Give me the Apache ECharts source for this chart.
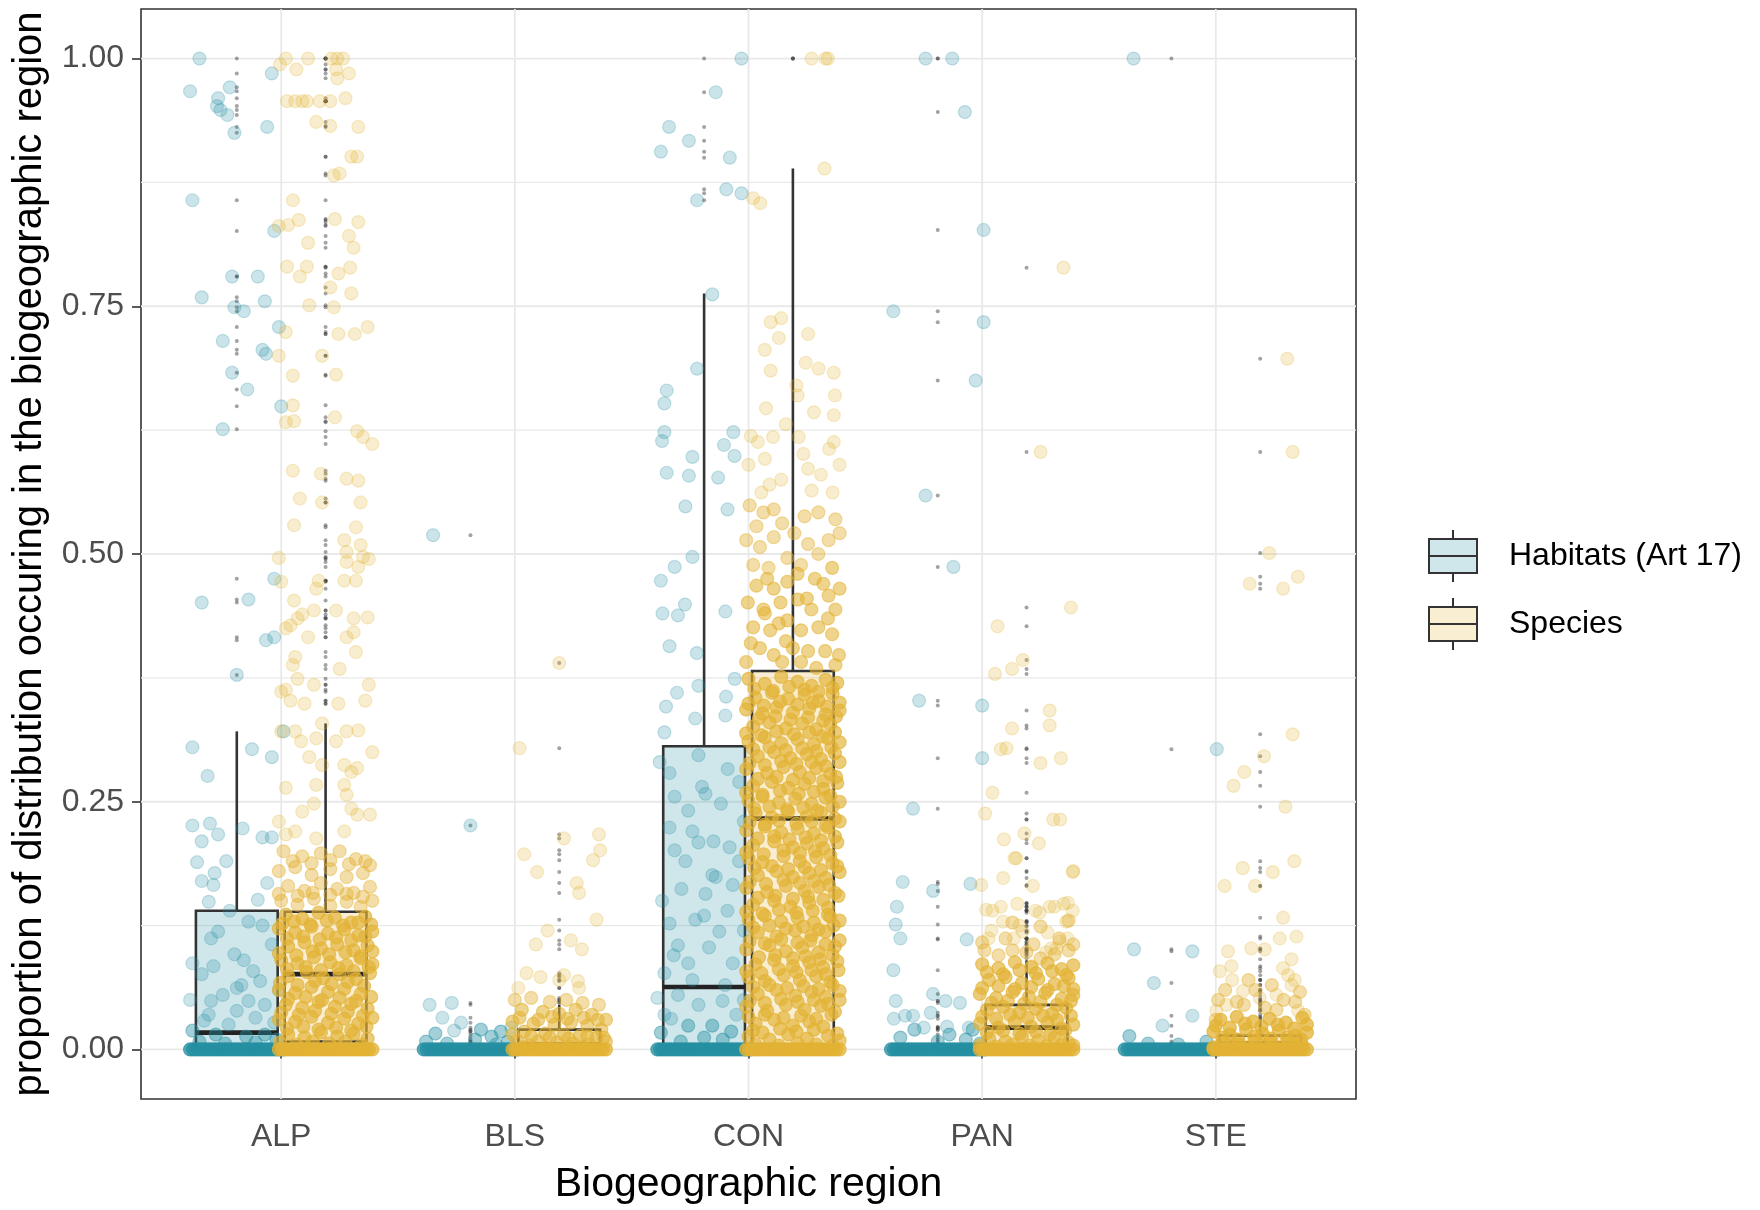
<!DOCTYPE html>
<html>
<head>
<meta charset="utf-8">
<title>Proportion of distribution by biogeographic region</title>
<script src="https://cdn.jsdelivr.net/npm/echarts@6/dist/echarts.min.js"></script>
<style>
  html, body { margin: 0; background: #fff; }
  #chart { width: 1760px; height: 1210px; }
</style>
</head>
<body>
<div id="chart"></div>
<script>
const regions = ["ALP", "BLS", "CON", "PAN", "STE"];
const yTicks = [0, 0.25, 0.5, 0.75, 1];
const yMinorTicks = [0.125, 0.375, 0.625, 0.875];
const HAB = "Habitats (Art 17)";
const SPE = "Species";

// box statistics per region (ALP, BLS, CON, PAN, STE)
const habWhiskerLow = [0, 0, 0, 0, 0];
const habQ1 = [0, 0, 0, 0, 0];
const habMedian = [0.017, 0, 0.063, 0, 0];
const habQ3 = [0.14, 0, 0.306, 0, 0];
const habWhiskerHigh = [0.321, 0, 0.763, 0, 0];

const speWhiskerLow = [0, 0, 0, 0, 0];
const speQ1 = [0.008, 0, 0.005, 0.003, 0.001];
const speMedian = [0.076, 0.005, 0.233, 0.022, 0.006];
const speQ3 = [0.139, 0.02, 0.382, 0.045, 0.014];
const speWhiskerHigh = [0.329, 0.045, 0.889, 0.09, 0.03];

// observations stacked at exactly 0 (jitter offsets, observations per offset)
const zeroBandJitter = [-0.2, -0.188, -0.176, -0.163, -0.151, -0.139, -0.126, -0.114, -0.101, -0.089, -0.076,
  -0.064, -0.052, -0.039, -0.027, -0.014, -0.002, 0.011, 0.023, 0.036, 0.048, 0.061, 0.073, 0.086, 0.098,
  0.111, 0.123, 0.136, 0.148, 0.161, 0.173, 0.186, 0.2];
const zeroBandCount = 5;

// jittered observations: jitter offset, proportion, overlapping observations
const habALP = [
  -0.16,1,1, 0.15,0.985,1, -0.2,0.967,1, -0.03,0.971,1, -0.08,0.96,1, -0.085,0.952,1, -0.07,0.948,1, -0.04,0.943,1, -0.01,0.925,1, 0.13,0.931,1,
  -0.19,0.857,1, 0.16,0.826,1, -0.02,0.78,1, 0.09,0.78,1, -0.15,0.759,1, -0.01,0.749,1, 0.03,0.745,1, 0.12,0.755,1, 0.18,0.729,1, -0.06,0.715,1,
  0.11,0.706,1, 0.125,0.702,1, -0.02,0.683,1, 0.045,0.666,1, 0.19,0.649,1, -0.06,0.626,1, 0.16,0.475,1, -0.15,0.451,1, 0.05,0.454,1, 0.125,0.413,1,
  0.16,0.416,1, 0,0.378,1, -0.19,0.305,1, 0.065,0.303,1, 0.15,0.295,1, -0.125,0.276,1, 0.2,0.321,1, -0.19,0.226,1, -0.115,0.228,1, -0.08,0.217,1,
  -0.15,0.21,1, 0.025,0.223,1, 0.11,0.214,1, 0.15,0.214,1,
  -0.17,0.189,1, -0.045,0.19,1, -0.095,0.178,1, -0.15,0.17,1, -0.1,0.166,1, 0.13,0.168,1, -0.12,0.149,1, 0.09,0.151,1, 0.05,0.129,1, -0.11,0.112,1,
  -0.01,0.096,1, 0.15,0.106,1, -0.19,0.087,1, -0.1,0.084,1, 0.07,0.079,1, 0.02,0.065,1, 0.1,0.069,1, -0.06,0.055,1, 0.05,0.049,1, -0.11,0.049,1,
  0.12,0.045,1, 0,0.039,1, 0.08,0.032,1, -0.14,0.029,1, -0.035,0.025,1, 0.16,0.027,1, -0.19,0.019,2, -0.09,0.015,2, 0.04,0.013,2, 0.12,0.015,2,
  -0.08,0.119,1, 0,0.062,1, -0.15,0.076,1, -0.16,0.008,2, -0.05,0.006,2, 0.08,0.007,2, 0.17,0.01,2, -0.12,0.035,1, 0.03,0.09,1, 0.11,0.125,1,
  -0.03,0.14,1, 0.18,0.06,1, -0.2,0.05,1
];
const habBLS = [
  -0.16,0.519,1, 0,0.226,1, -0.175,0.045,1, -0.08,0.047,1, -0.12,0.032,1, -0.04,0.027,1, -0.07,0.019,1, -0.15,0.016,2,
  0.045,0.02,2, 0.13,0.018,2, 0.175,0.022,1, 0.09,0.013,2, -0.19,0.008,2, -0.1,0.006,2, 0.02,0.01,2, 0.11,0.005,2, 0.16,0.008,2
];
const habCON = [
  0.16,1,1, 0.05,0.966,1, -0.15,0.931,1, -0.065,0.917,1, -0.185,0.906,1, 0.11,0.9,1, 0.095,0.868,1, 0.16,0.864,1, -0.03,0.857,1, 0.035,0.762,1,
  -0.03,0.687,1, -0.16,0.665,1, -0.17,0.652,1, -0.17,0.623,1, -0.18,0.614,1, 0.125,0.623,1, 0.085,0.61,1, 0.13,0.599,1, -0.16,0.582,1, -0.065,0.579,1,
  -0.05,0.598,1, 0.06,0.577,1, -0.08,0.548,1, 0.1,0.545,1, -0.05,0.497,1,
  -0.126,0.487,1, -0.185,0.473,1, -0.082,0.449,1, -0.178,0.44,1, -0.112,0.438,1, 0.091,0.442,1, -0.148,0.407,1, -0.031,0.4,1, -0.024,0.367,1, -0.116,0.36,1,
  0.131,0.374,1, 0.094,0.356,1, -0.163,0.346,1, -0.038,0.334,1, 0.091,0.337,1, -0.17,0.32,1,
  -0.148,0.279,1, -0.024,0.297,1, 0.101,0.283,1, -0.126,0.255,1, 0.006,0.258,1, -0.068,0.241,1, 0.072,0.248,1, -0.148,0.224,1, -0.024,0.209,1, 0.109,0.204,1,
  -0.126,0.201,1, 0.035,0.176,1, -0.097,0.162,1, 0.006,0.157,1, 0.123,0.166,1, -0.148,0.127,1, -0.038,0.131,1, 0.065,0.119,1, -0.112,0.105,1, 0.021,0.103,1,
  0.123,0.087,1, -0.17,0.077,1, -0.068,0.087,1, 0.05,0.174,1, -0.009,0.265,1, -0.19,0.29,1, 0.15,0.27,1, -0.05,0.22,1, 0.17,0.23,1, 0.1,0.14,1,
  -0.18,0.15,1, -0.08,0.19,1, 0.15,0.19,1, 0.04,0.21,1, -0.13,0.095,1, 0.17,0.12,1, 0,0.135,1,
  -0.2,0.052,1, -0.112,0.055,1, -0.024,0.045,1, 0.079,0.049,1, 0.138,0.035,1, -0.141,0.031,1, -0.068,0.024,2, 0.035,0.024,2, -0.185,0.017,2, 0.116,0.018,2,
  -0.05,0.07,1, 0.09,0.065,1, -0.17,0.035,1, 0.17,0.05,1, 0,0.012,2, -0.1,0.008,2, 0.08,0.01,2
];
const habPAN = [
  -0.052,1,1, 0.062,1,1, 0.116,0.946,1, 0.196,0.827,1, -0.19,0.745,1, 0.196,0.734,1, 0.162,0.675,1, -0.052,0.559,1, 0.067,0.487,1, -0.08,0.352,1,
  0.19,0.347,1, 0.19,0.294,1, -0.106,0.243,1, -0.15,0.169,1, -0.02,0.16,1, 0.14,0.167,1, -0.175,0.144,1, -0.18,0.126,1, -0.16,0.112,1, 0.124,0.111,1,
  -0.19,0.08,1, -0.18,0.049,1, -0.02,0.056,1, 0.033,0.049,1, 0.095,0.047,1, -0.14,0.034,1, -0.106,0.034,1, -0.03,0.037,1, 0.133,0.022,1, -0.06,0.022,1,
  0.04,0.023,1, -0.188,0.031,1,
  -0.1,0.02,2, 0.05,0.015,2, 0.15,0.02,2, -0.16,0.012,2, 0.12,0.01,2, 0,0.008,2, 0.18,0.006,2
];
const habSTE = [
  -0.162,1,1, 0.194,0.303,1, -0.16,0.101,1, 0.09,0.099,1, -0.075,0.067,1, 0.09,0.034,1, -0.038,0.024,1,
  -0.18,0.0135,2, 0.15,0.008,2, -0.1,0.006,2, 0.03,0.005,2
];

const speALP = [
  -0.17,1,1, -0.075,1,1, 0.025,1,1, 0.05,1,1, 0.075,1,1, -0.195,0.994,1, -0.125,0.989,1, 0.045,0.989,1, 0.05,0.98,1, 0.1,0.985,1,
  -0.165,0.957,1, -0.13,0.957,1, -0.1,0.957,1, -0.08,0.957,1, -0.025,0.957,1, 0.02,0.957,1, 0.085,0.96,1, -0.04,0.936,1, 0.02,0.932,1, 0.14,0.931,1,
  0.11,0.901,1, 0.135,0.901,1, 0.06,0.884,1, 0.035,0.882,1, -0.14,0.857,1, 0.04,0.838,1, 0.14,0.835,1, -0.2,0.831,1, -0.16,0.832,1, -0.115,0.837,1,
  -0.075,0.814,1, 0.1,0.821,1, 0.12,0.809,1, -0.165,0.79,1, -0.08,0.79,1, -0.11,0.78,1, 0.055,0.783,1, 0.105,0.789,1, 0.02,0.769,1, 0.11,0.763,1,
  -0.07,0.751,1, 0.035,0.749,1, -0.17,0.724,1, 0.055,0.722,1, 0.125,0.722,1, 0.18,0.729,1, -0.2,0.7,1, -0.015,0.7,1, -0.14,0.68,1, 0.045,0.681,1,
  -0.14,0.65,1, -0.135,0.634,1, -0.17,0.633,1, 0.04,0.638,1, 0.135,0.624,1, 0.16,0.618,1, 0.2,0.611,1, -0.14,0.584,1, -0.02,0.581,1, 0.09,0.576,1,
  0.14,0.574,1, -0.11,0.556,1, -0.015,0.552,1, 0.15,0.552,1, -0.135,0.529,1, 0.13,0.527,1, 0.08,0.514,1, 0.15,0.509,1, 0.09,0.502,1, 0.16,0.497,1,
  0.185,0.495,1, -0.2,0.496,1, 0.09,0.492,1, 0.14,0.487,1, 0.08,0.473,1, 0.13,0.473,1, -0.19,0.472,1, -0.03,0.473,1, -0.04,0.465,1, -0.135,0.453,1,
  0.045,0.443,1, -0.1,0.439,1, -0.12,0.435,1, -0.15,0.428,1, -0.17,0.425,1, -0.05,0.443,1, 0.12,0.435,1, 0.18,0.436,1, -0.075,0.416,1, 0.09,0.416,1,
  0.12,0.421,1, 0.13,0.401,1, -0.13,0.396,1, -0.14,0.388,1, 0.06,0.384,1, -0.12,0.374,1, -0.17,0.363,1, -0.19,0.361,1, -0.05,0.368,1, 0.185,0.368,1,
  -0.09,0.349,1, 0.055,0.349,1, 0.17,0.352,1, -0.15,0.352,1, -0.015,0.329,1, -0.13,0.321,1, 0.09,0.321,1, 0.14,0.322,1, -0.19,0.321,1, -0.04,0.314,1,
  -0.105,0.311,1, -0.07,0.295,1, -0.015,0.287,1, 0.08,0.287,1, 0.135,0.284,1, 0.2,0.3,1, 0.045,0.311,1, 0.11,0.28,1, -0.17,0.264,1, -0.04,0.267,1,
  0.08,0.267,1, 0.09,0.257,1, -0.05,0.248,1, -0.1,0.24,1, -0.2,0.23,1, 0.135,0.237,1, 0.19,0.237,1, 0.11,0.243,1, -0.04,0.213,1, 0.08,0.22,1,
  -0.13,0.22,1, -0.17,0.217,1,
  -0.18,0.2,2, -0.1,0.195,2, -0.02,0.198,2, 0.06,0.2,2, 0.13,0.192,2, 0.19,0.186,2,
  -0.14,0.19,2, -0.06,0.188,2, 0.02,0.191,2, 0.1,0.187,2, 0.17,0.19,2,
  -0.2,0.18,2, -0.13,0.184,2, -0.06,0.176,2, 0.02,0.182,2, 0.09,0.174,2, 0.16,0.178,2,
  -0.16,0.165,2, -0.09,0.16,2, -0.02,0.168,2, 0.05,0.162,2, 0.12,0.158,2, 0.19,0.164,2,
  -0.2,0.157,2, -0.12,0.155,2, -0.055,0.158,2, 0.02,0.156,2, 0.09,0.157,2, 0.16,0.154,2,
  -0.19,0.15,2, -0.12,0.146,2, -0.05,0.152,2, 0.02,0.145,2, 0.09,0.149,2, 0.15,0.144,2, 0.2,0.15,2,
  -0.17,0.136,4, -0.1,0.132,4, -0.03,0.138,4, 0.04,0.133,4, 0.11,0.128,4, 0.17,0.134,4,
  -0.185,0.127,4, -0.135,0.129,4, -0.065,0.126,4, 0.005,0.13,4, 0.075,0.125,4, 0.14,0.128,4, 0.195,0.126,4,
  -0.2,0.122,4, -0.13,0.118,4, -0.06,0.124,4, 0.01,0.117,4, 0.08,0.121,4, 0.14,0.115,4, 0.2,0.119,4,
  -0.165,0.112,4, -0.095,0.114,4, -0.025,0.111,4, 0.045,0.113,4, 0.11,0.11,4, 0.17,0.114,4,
  -0.16,0.104,4, -0.09,0.108,4, -0.02,0.102,4, 0.05,0.106,4, 0.12,0.1,4, 0.18,0.105,4,
  -0.2,0.097,4, -0.125,0.095,4, -0.055,0.099,4, 0.015,0.096,4, 0.085,0.098,4, 0.15,0.094,4, 0.2,0.099,4,
  -0.19,0.09,4, -0.12,0.087,4, -0.05,0.093,4, 0.02,0.088,4, 0.09,0.085,4, 0.15,0.092,4, 0.2,0.086,4,
  -0.165,0.081,4, -0.085,0.083,4, -0.02,0.08,4, 0.055,0.082,4, 0.12,0.079,4, 0.185,0.083,4,
  -0.16,0.074,4, -0.08,0.078,4, -0.01,0.072,4, 0.06,0.076,4, 0.13,0.071,4, 0.19,0.077,4,
  -0.195,0.067,4, -0.12,0.065,4, -0.045,0.069,4, 0.025,0.066,4, 0.095,0.068,4, 0.165,0.064,4,
  -0.2,0.06,4, -0.13,0.057,4, -0.06,0.063,4, 0.01,0.058,4, 0.08,0.061,4, 0.15,0.056,4,
  -0.16,0.051,4, -0.085,0.053,4, -0.015,0.05,4, 0.06,0.052,4, 0.13,0.049,4, 0.195,0.053,4,
  -0.17,0.045,4, -0.1,0.042,4, -0.03,0.048,4, 0.04,0.043,4, 0.11,0.046,4, 0.18,0.041,4,
  -0.19,0.037,4, -0.115,0.035,4, -0.045,0.039,4, 0.025,0.036,4, 0.095,0.038,4, 0.16,0.034,4,
  -0.2,0.03,4, -0.13,0.028,4, -0.06,0.033,4, 0.01,0.027,4, 0.08,0.031,4, 0.14,0.026,4, 0.2,0.032,4,
  -0.165,0.021,4, -0.095,0.023,4, -0.03,0.02,4, 0.045,0.022,4, 0.11,0.019,4, 0.175,0.023,4,
  -0.16,0.015,4, -0.09,0.012,4, -0.02,0.017,4, 0.05,0.013,4, 0.12,0.016,4, 0.18,0.011,4,
  -0.195,0.007,4, -0.125,0.005,4, -0.055,0.008,4, 0.015,0.006,4, 0.085,0.008,4, 0.155,0.005,4
];
const speBLS = [
  -0.17,0.304,1, 0,0.39,1, 0.17,0.217,1, 0.175,0.201,1, 0.145,0.191,1, -0.15,0.197,1, -0.095,0.179,1, 0.075,0.168,1, 0.085,0.158,1, 0.16,0.131,1,
  -0.1,0.106,1, 0.097,0.101,1, -0.14,0.077,1, -0.08,0.073,1, -0.175,0.062,1, 0.08,0.069,1, 0.085,0.062,1, 0,0.07,1, 0.02,0.075,1, 0.02,0.213,1,
  -0.05,0.12,1, 0.05,0.11,1,
  -0.19,0.05,2, -0.12,0.052,2, -0.04,0.048,2, 0.03,0.05,2, 0.1,0.047,2, 0.17,0.045,2, -0.16,0.04,3, -0.07,0.038,3, 0,0.036,3, 0.07,0.04,3,
  0.14,0.035,3, 0.2,0.03,3, -0.2,0.028,3, -0.11,0.026,3, -0.02,0.025,3, 0.05,0.027,3, 0.12,0.024,3, 0.18,0.02,3, -0.15,0.018,3, -0.06,0.016,3,
  0.02,0.015,3, 0.09,0.014,3, 0.16,0.012,3, -0.18,0.009,3, -0.09,0.008,3, -0.01,0.007,3, 0.06,0.006,3, 0.13,0.005,3, 0.2,0.008,3, -0.13,0.004,3,
  -0.17,0.032,3, -0.09,0.03,3, -0.03,0.033,3, 0.035,0.031,3, 0.105,0.032,3, 0.165,0.03,3,
  -0.2,0.015,3, -0.12,0.013,3, -0.04,0.012,3, 0.04,0.011,3, 0.12,0.013,3, 0.19,0.012,3,
  -0.16,0.002,3, -0.06,0.002,3, 0.04,0.002,3, 0.1,0.002,3
];
const speCON = [
  0.08,1,1, 0.14,1,1, 0.15,1,1, 0.135,0.889,1, -0.17,0.859,1, -0.14,0.854,1, -0.095,0.734,1, -0.05,0.738,1, 0.065,0.722,1, -0.06,0.718,1,
  -0.12,0.706,1, -0.095,0.685,1, 0.055,0.693,1, 0.11,0.687,1, 0.175,0.683,1, 0.015,0.67,1, 0.02,0.66,1, 0.18,0.66,1, -0.115,0.647,1, 0.09,0.643,1,
  0.175,0.64,1, -0.18,0.619,1, -0.15,0.613,1, -0.085,0.618,1, -0.03,0.631,1, 0.025,0.618,1, 0.045,0.601,1, 0.065,0.586,1, 0.175,0.613,1, 0.155,0.606,1,
  -0.12,0.596,1, -0.135,0.562,1, 0.08,0.564,1, 0.17,0.562,1, -0.19,0.59,1, -0.05,0.575,1, 0.12,0.58,1, 0.2,0.59,1, -0.1,0.57,1,
  -0.185,0.549,2, -0.126,0.542,2, -0.082,0.545,2, -0.156,0.528,2, -0.046,0.531,2, 0.05,0.538,2, 0.109,0.542,2, 0.182,0.535,2, -0.2,0.514,2, -0.141,0.507,2,
  -0.082,0.517,2, 0.006,0.521,2, 0.065,0.51,2, 0.153,0.514,2, 0.2,0.521,2, -0.17,0.489,2, -0.104,0.486,2, -0.024,0.496,2, 0.035,0.489,2, 0.109,0.5,2,
  0.168,0.486,3, 0.2,0.465,3, -0.156,0.468,3, -0.082,0.465,3, -0.024,0.472,3, 0.094,0.475,3, 0.153,0.458,3, -0.193,0.451,3, -0.126,0.444,3, -0.053,0.451,3,
  0.021,0.454,3, 0.079,0.444,3, 0.182,0.444,3, -0.17,0.426,3, -0.097,0.423,3, -0.024,0.433,3, 0.035,0.423,3, 0.109,0.426,3, 0.168,0.419,3, -0.141,0.405,3,
  -0.082,0.398,3, 0,0.405,3, 0.065,0.402,3, 0.138,0.402,3, 0.197,0.398,3, -0.2,0.391,3, -0.046,0.391,3, 0.035,0.391,3, 0.182,0.388,3,
  -0.11,0.475,3, 0.02,0.48,3, 0.13,0.47,3, -0.06,0.43,3, 0.06,0.455,3, 0.15,0.435,3, -0.18,0.41,3, -0.03,0.412,3, 0.1,0.385,3, -0.12,0.44,3,
  -0.19,0.374,4, -0.12,0.369,4, -0.05,0.376,4, 0.02,0.371,4, 0.08,0.367,4, 0.14,0.373,4, 0.19,0.37,4,
  -0.165,0.364,4, -0.085,0.362,4, -0.015,0.366,4, 0.05,0.363,4, 0.11,0.361,4, 0.17,0.365,4,
  -0.16,0.355,4, -0.09,0.36,4, -0.02,0.354,4, 0.05,0.358,4, 0.11,0.352,4, 0.17,0.359,4,
  -0.19,0.349,4, -0.125,0.347,4, -0.055,0.351,4, 0.02,0.348,4, 0.085,0.35,4, 0.145,0.346,4, 0.2,0.35,4,
  -0.2,0.343,4, -0.13,0.339,4, -0.07,0.345,4, 0,0.34,4, 0.07,0.344,4, 0.14,0.338,4, 0.2,0.342,4,
  -0.145,0.334,4, -0.075,0.336,4, -0.01,0.333,4, 0.065,0.335,4, 0.13,0.332,4, 0.185,0.336,4,
  -0.17,0.326,4, -0.1,0.33,4, -0.03,0.324,4, 0.04,0.329,4, 0.1,0.323,4, 0.16,0.328,4,
  -0.2,0.319,4, -0.135,0.317,4, -0.07,0.321,4, 0.005,0.318,4, 0.07,0.32,4, 0.125,0.316,4, 0.18,0.32,4,
  -0.19,0.311,4, -0.12,0.315,4, -0.05,0.309,4, 0.02,0.313,4, 0.09,0.308,4, 0.15,0.314,4, 0.2,0.31,4,
  -0.17,0.303,4, -0.1,0.305,4, -0.03,0.302,4, 0.04,0.304,4, 0.1,0.301,4, 0.165,0.305,4,
  -0.15,0.296,4, -0.08,0.3,4, -0.01,0.294,4, 0.06,0.298,4, 0.12,0.293,4, 0.18,0.299,4,
  -0.185,0.289,4, -0.12,0.287,4, -0.05,0.291,4, 0.015,0.288,4, 0.08,0.29,4, 0.14,0.286,4, 0.2,0.29,4,
  -0.2,0.283,4, -0.11,0.279,4, -0.04,0.285,4, 0.03,0.28,4, 0.1,0.284,4, 0.16,0.278,4,
  -0.15,0.273,4, -0.07,0.275,4, 0,0.272,4, 0.07,0.274,4, 0.13,0.271,4, 0.185,0.275,4,
  -0.17,0.266,4, -0.09,0.27,4, -0.02,0.264,4, 0.05,0.268,4, 0.13,0.263,4, 0.19,0.269,4,
  -0.2,0.259,4, -0.13,0.257,4, -0.055,0.261,4, 0.025,0.258,4, 0.09,0.26,4, 0.16,0.256,4,
  -0.19,0.251,4, -0.13,0.255,4, -0.06,0.249,4, 0.01,0.253,4, 0.08,0.248,4, 0.14,0.254,4, 0.2,0.25,4,
  -0.165,0.243,4, -0.1,0.245,4, -0.025,0.242,4, 0.045,0.244,4, 0.105,0.241,4, 0.17,0.245,4,
  -0.16,0.238,4, -0.09,0.234,4, -0.02,0.24,4, 0.06,0.235,4, 0.12,0.239,4, 0.18,0.233,4,
  -0.185,0.229,4, -0.12,0.227,4, -0.06,0.231,4, 0.015,0.228,4, 0.08,0.23,4, 0.14,0.226,4, 0.2,0.23,4,
  -0.2,0.221,4, -0.12,0.225,4, -0.05,0.219,4, 0.02,0.223,4, 0.09,0.218,4, 0.15,0.224,4,
  -0.15,0.213,4, -0.08,0.215,4, -0.015,0.212,4, 0.055,0.214,4, 0.12,0.211,4, 0.18,0.215,4,
  -0.17,0.206,4, -0.08,0.21,4, 0,0.204,4, 0.06,0.208,4, 0.13,0.203,4, 0.19,0.209,4,
  -0.2,0.199,4, -0.125,0.197,4, -0.04,0.201,4, 0.03,0.198,4, 0.095,0.2,4, 0.16,0.196,4,
  -0.19,0.193,4, -0.13,0.189,4, -0.04,0.195,4, 0.03,0.19,4, 0.1,0.194,4, 0.17,0.188,4,
  -0.165,0.183,4, -0.09,0.185,4, -0.02,0.182,4, 0.05,0.184,4, 0.12,0.181,4, 0.19,0.185,4,
  -0.15,0.176,4, -0.07,0.18,4, 0,0.174,4, 0.07,0.178,4, 0.14,0.173,4, 0.2,0.179,4,
  -0.185,0.169,4, -0.115,0.167,4, -0.04,0.171,4, 0.03,0.168,4, 0.09,0.17,4, 0.155,0.166,4,
  -0.2,0.163,4, -0.11,0.159,4, -0.03,0.165,4, 0.05,0.16,4, 0.11,0.164,4, 0.18,0.158,4,
  -0.15,0.153,4, -0.075,0.155,4, 0,0.152,4, 0.065,0.154,4, 0.13,0.151,4, 0.195,0.155,4,
  -0.17,0.146,4, -0.08,0.15,4, -0.01,0.144,4, 0.07,0.148,4, 0.15,0.143,4,
  -0.2,0.139,4, -0.13,0.137,4, -0.06,0.141,4, 0.015,0.138,4, 0.085,0.14,4, 0.15,0.136,4,
  -0.19,0.131,4, -0.12,0.135,4, -0.05,0.129,4, 0.02,0.133,4, 0.09,0.128,4, 0.16,0.134,4, 0.2,0.13,4,
  -0.17,0.123,4, -0.1,0.125,4, -0.03,0.122,4, 0.045,0.124,4, 0.11,0.121,4, 0.175,0.125,4,
  -0.15,0.118,4, -0.07,0.114,4, 0.01,0.12,4, 0.08,0.115,4, 0.14,0.119,4,
  -0.185,0.109,4, -0.12,0.107,4, -0.05,0.111,4, 0.02,0.108,4, 0.075,0.11,4, 0.14,0.106,4, 0.2,0.11,4,
  -0.2,0.101,4, -0.1,0.105,4, -0.03,0.099,4, 0.04,0.103,4, 0.11,0.098,4, 0.18,0.104,4,
  -0.145,0.093,4, -0.075,0.095,4, 0,0.092,4, 0.055,0.094,4, 0.115,0.091,4, 0.17,0.095,4,
  -0.16,0.086,4, -0.08,0.09,4, 0,0.084,4, 0.07,0.088,4, 0.13,0.083,4, 0.19,0.089,4,
  -0.2,0.079,4, -0.135,0.077,4, -0.06,0.081,4, 0.015,0.078,4, 0.08,0.08,4, 0.14,0.076,4, 0.195,0.08,4,
  -0.19,0.073,4, -0.12,0.069,4, -0.04,0.075,4, 0.03,0.07,4, 0.1,0.074,4, 0.16,0.068,4,
  -0.17,0.063,4, -0.1,0.065,4, -0.025,0.062,4, 0.045,0.064,4, 0.11,0.061,4, 0.17,0.065,4,
  -0.15,0.056,4, -0.07,0.06,4, 0.01,0.054,4, 0.08,0.058,4, 0.14,0.053,4, 0.2,0.059,4,
  -0.185,0.049,4, -0.12,0.047,4, -0.05,0.051,4, 0.02,0.048,4, 0.09,0.05,4, 0.15,0.046,4, 0.2,0.05,4,
  -0.2,0.043,4, -0.11,0.039,4, -0.03,0.045,4, 0.05,0.04,4, 0.12,0.044,4, 0.18,0.038,4,
  -0.19,0.033,4, -0.12,0.035,4, -0.04,0.032,4, 0.035,0.034,4, 0.1,0.031,4, 0.165,0.035,4,
  -0.16,0.026,4, -0.08,0.03,4, 0,0.024,4, 0.07,0.028,4, 0.13,0.023,4,
  -0.17,0.019,4, -0.13,0.017,4, -0.055,0.021,4, 0.015,0.018,4, 0.09,0.02,4, 0.19,0.016,4,
  -0.19,0.013,4, -0.1,0.01,4, -0.02,0.015,4, 0.06,0.011,4, 0.15,0.014,4, 0.2,0.009,4,
  -0.16,0.005,4, -0.06,0.004,4, 0.02,0.006,4, 0.1,0.005,4, 0.17,0.004,4
];
const spePAN = [
  0.158,0.789,1, 0.06,0.603,1, -0.124,0.427,1, 0.19,0.446,1, -0.135,0.379,1, -0.062,0.384,1, -0.016,0.393,1, 0.099,0.342,1, 0.099,0.327,1, -0.062,0.324,1,
  -0.11,0.303,1, 0.06,0.289,1, 0.147,0.294,1, -0.086,0.304,1, -0.146,0.259,1, -0.177,0.238,1, -0.097,0.212,1, -0.051,0.193,1, -0.009,0.218,1, 0.053,0.208,1,
  0.114,0.232,1, 0.144,0.232,1, 0.198,0.179,1, -0.11,0.144,1, -0.04,0.147,1, 0.038,0.14,1, 0.099,0.144,1, 0.159,0.147,1, 0.198,0.14,1, 0.083,0.098,1,
  0.129,0.102,1, 0.176,0.112,1, -0.146,0.14,1, -0.162,0.112,1, -0.054,0.112,1, 0.022,0.084,1, -0.044,0.193,1, -0.1,0.173,1, 0.2,0.18,1, 0.027,0.165,1,
  -0.194,0.166,1, -0.173,0.141,1, -0.101,0.129,1, -0.016,0.119,1, 0.056,0.138,1, 0.12,0.144,1, 0.177,0.148,1, 0.17,0.129,1, 0.106,0.102,1, 0.141,0.109,1,
  -0.15,0.12,1, -0.03,0.125,1, 0.09,0.118,1,
  -0.19,0.108,2, -0.09,0.112,2, 0.03,0.106,2, 0.14,0.112,2, 0.2,0.106,2, -0.06,0.128,2, 0.06,0.124,2, 0.18,0.13,2,
  -0.18,0.1,2, -0.12,0.095,2, -0.06,0.1,2, 0,0.098,2, 0.06,0.092,2, 0.12,0.096,2, 0.18,0.1,2,
  -0.19,0.086,4, -0.12,0.082,4, -0.05,0.088,4, 0.02,0.083,4, 0.09,0.087,4, 0.15,0.081,4, 0.2,0.085,4,
  -0.17,0.078,4, -0.1,0.076,4, -0.03,0.08,4, 0.04,0.077,4, 0.11,0.079,4, 0.17,0.075,4,
  -0.16,0.07,4, -0.09,0.073,4, -0.02,0.067,4, 0.05,0.071,4, 0.12,0.066,4, 0.18,0.072,4,
  -0.19,0.062,4, -0.12,0.064,4, -0.05,0.061,4, 0.02,0.063,4, 0.09,0.06,4, 0.16,0.064,4, 0.2,0.061,4,
  -0.2,0.056,4, -0.13,0.052,4, -0.06,0.058,4, 0.01,0.053,4, 0.08,0.057,4, 0.15,0.051,4, 0.2,0.055,4,
  -0.15,0.047,4, -0.08,0.049,4, -0.01,0.046,4, 0.06,0.048,4, 0.13,0.045,4, 0.19,0.049,4,
  -0.17,0.04,4, -0.1,0.043,4, -0.03,0.037,4, 0.04,0.041,4, 0.11,0.036,4, 0.17,0.042,4,
  -0.19,0.033,4, -0.13,0.031,4, -0.07,0.035,4, 0.005,0.032,4, 0.07,0.034,4, 0.13,0.03,4, 0.19,0.034,4,
  -0.2,0.026,4, -0.12,0.022,4, -0.05,0.028,4, 0.02,0.023,4, 0.09,0.027,4, 0.15,0.021,4, 0.2,0.025,4,
  -0.17,0.017,4, -0.1,0.019,4, -0.03,0.016,4, 0.04,0.018,4, 0.1,0.015,4, 0.165,0.019,4,
  -0.16,0.011,4, -0.09,0.008,4, -0.02,0.013,4, 0.05,0.009,4, 0.12,0.012,4, 0.18,0.007,4,
  -0.2,0.004,4, -0.13,0.003,4, -0.06,0.005,4, 0.015,0.004,4, 0.085,0.003,4, 0.15,0.005,4, 0.2,0.004,4
];
const speSTE = [
  0.116,0.697,1, 0.139,0.603,1, 0.039,0.501,1, -0.045,0.47,1, 0.098,0.465,1, 0.161,0.477,1, 0.139,0.318,1, 0.016,0.296,1, -0.114,0.266,1, -0.068,0.28,1,
  0.108,0.245,1, 0.146,0.19,1, -0.075,0.183,1, 0.054,0.179,1, -0.022,0.165,1, -0.152,0.165,1, 0.098,0.133,1, 0.084,0.112,1, 0.155,0.114,1, -0.038,0.102,1,
  0.019,0.101,1, -0.138,0.099,1, 0.134,0.091,1, -0.123,0.084,1, 0.098,0.082,1, 0.148,0.07,1, -0.173,0.079,1, -0.074,0.059,1, 0.07,0.055,1, 0.162,0.039,1,
  0.134,0.065,1, -0.145,0.045,1, -0.002,0.052,1, -0.188,0.039,1, 0.12,0.075,1, -0.12,0.07,1,
  -0.15,0.06,2, -0.05,0.07,2, 0.05,0.065,2, 0.17,0.058,2, -0.1,0.048,2, 0.1,0.05,2, 0.02,0.042,2, -0.19,0.03,2, 0.19,0.035,2,
  -0.18,0.05,2, -0.07,0.045,2, 0.07,0.04,2, 0.15,0.048,2, -0.02,0.06,2,
  -0.17,0.03,5, -0.1,0.033,5, -0.03,0.028,5, 0.04,0.031,5, 0.11,0.027,5, 0.18,0.032,5,
  -0.19,0.024,5, -0.13,0.022,5, -0.065,0.026,5, 0.005,0.023,5, 0.075,0.025,5, 0.145,0.021,5, 0.2,0.025,5,
  -0.2,0.018,5, -0.13,0.015,5, -0.06,0.02,5, 0.01,0.016,5, 0.08,0.019,5, 0.15,0.014,5, 0.2,0.017,5,
  -0.16,0.012,5, -0.095,0.01,5, -0.025,0.013,5, 0.045,0.011,5, 0.115,0.012,5, 0.175,0.01,5,
  -0.16,0.007,5, -0.09,0.005,5, -0.02,0.009,5, 0.05,0.006,5, 0.12,0.008,5, 0.18,0.004,5,
  -0.2,0.002,5, -0.12,0.003,5, -0.05,0.002,5, 0.02,0.003,5, 0.09,0.002,5, 0.155,0.003,5
];

const habGroups = [habALP, habBLS, habCON, habPAN, habSTE];
const speGroups = [speALP, speBLS, speCON, spePAN, speSTE];

const FONT = '"Liberation Sans", Arial, Helvetica, sans-serif';
const TEAL = "#2690a3";
const GOLD = "#e3b234";
const BOX_LINE = "#333333";
const GRID_LINE = "#e9e9e9";
const DODGE = 0.19;
const BOX_WIDTH = 0.35;
const POINT_ALPHA = 0.24;
const KEY_PATH = "path://M0,9H48V43H0ZM0,26H48M24,0V9M24,43V52";

const alphaFor = (n) => 1 - Math.pow(1 - POINT_ALPHA, n);

function pointItems(groups, dodge) {
  const items = [];
  groups.forEach((flat, i) => {
    const cx = i + 1 + dodge;
    zeroBandJitter.forEach((dx) => {
      items.push({ value: [cx + dx, 0], itemStyle: { opacity: alphaFor(zeroBandCount) } });
    });
    for (let k = 0; k < flat.length; k += 3) {
      items.push({ value: [cx + flat[k], flat[k + 1]], itemStyle: { opacity: alphaFor(flat[k + 2]) } });
    }
  });
  return items;
}

// boxplot outliers sit on the box centre line
function outlierItems(groups, dodge, lo, hi) {
  const items = [];
  groups.forEach((flat, i) => {
    for (let k = 0; k < flat.length; k += 3) {
      const v = flat[k + 1];
      if (v > hi[i] || v < lo[i]) items.push([i + 1 + dodge, v]);
    }
  });
  return items;
}

function boxData(dodge, lo, q1, med, q3, hi) {
  return regions.map((r, i) => [i + 1 + dodge, lo[i], q1[i], med[i], q3[i], hi[i]]);
}

function boxRenderer(fill) {
  return function (params, api) {
    const x = api.value(0);
    const c = api.coord([x, api.value(3)]);
    const half = api.size([BOX_WIDTH, 0])[0] / 2;
    const yLo = api.coord([x, api.value(1)])[1];
    const yQ1 = api.coord([x, api.value(2)])[1];
    const yQ3 = api.coord([x, api.value(4)])[1];
    const yHi = api.coord([x, api.value(5)])[1];
    const line = { stroke: BOX_LINE, lineWidth: 2.6 };
    return {
      type: "group",
      children: [
        { type: "line", shape: { x1: c[0], y1: yQ3, x2: c[0], y2: yHi }, style: line },
        { type: "line", shape: { x1: c[0], y1: yQ1, x2: c[0], y2: yLo }, style: line },
        { type: "rect", shape: { x: c[0] - half, y: yQ3, width: 2 * half, height: yQ1 - yQ3 },
          style: { fill: fill, stroke: BOX_LINE, lineWidth: 2.6 } },
        { type: "line", shape: { x1: c[0] - half, y1: c[1], x2: c[0] + half, y2: c[1] },
          style: { stroke: "#222", lineWidth: 4.6 } },
      ],
    };
  };
}

// panel grid: 0 = major horizontal, 1 = minor horizontal, 2 = vertical at categories
const gridData = [
  ...yTicks.map((v) => [1, v, 0]),
  ...yMinorTicks.map((v) => [1, v, 1]),
  ...regions.map((r, i) => [i + 1, 0, 2]),
];

function renderGridLine(params, api) {
  const kind = api.value(2);
  const cs = params.coordSys;
  if (kind === 2) {
    const x = api.coord([api.value(0), 0])[0];
    return { type: "line", shape: { x1: x, y1: cs.y, x2: x, y2: cs.y + cs.height },
      style: { stroke: GRID_LINE, lineWidth: 1.8 } };
  }
  const y = api.coord([1, api.value(1)])[1];
  return { type: "line", shape: { x1: cs.x, y1: y, x2: cs.x + cs.width, y2: y },
    style: { stroke: GRID_LINE, lineWidth: kind === 0 ? 1.8 : 1.1 } };
}

const chart = echarts.init(document.getElementById("chart"));
chart.setOption({
  animation: false,
  backgroundColor: "#ffffff",
  textStyle: { fontFamily: FONT },
  grid: {
    left: 141, right: 404, top: 9, bottom: 110,
    show: true, borderColor: "#333333", borderWidth: 1.6, backgroundColor: "#ffffff",
  },
  xAxis: {
    type: "value", min: 0.4, max: 5.6,
    axisLine: { show: false },
    splitLine: { show: false },
    axisTick: {
      show: true, length: 9, customValues: regions.map((r, i) => i + 1),
      lineStyle: { color: "#333333", width: 1.6 },
    },
    axisLabel: {
      customValues: regions.map((r, i) => i + 1),
      formatter: (v) => regions[Math.round(v) - 1],
      fontSize: 32, color: "#4d4d4d", margin: 22, fontFamily: FONT,
    },
    name: "Biogeographic region", nameLocation: "middle", nameGap: 65,
    nameTextStyle: { fontSize: 41, color: "#000000", fontFamily: FONT },
  },
  yAxis: {
    type: "value", min: -0.05, max: 1.05,
    axisLine: { show: false },
    splitLine: { show: false },
    axisTick: {
      show: true, length: 9, customValues: yTicks,
      lineStyle: { color: "#333333", width: 1.6 },
    },
    axisLabel: {
      customValues: yTicks,
      formatter: (v) => v.toFixed(2),
      fontSize: 32, color: "#4d4d4d", margin: 17, fontFamily: FONT,
    },
    name: "proportion of distribution occuring in the biogeographic region",
    nameLocation: "middle", nameGap: 91, nameRotate: 90,
    nameTextStyle: { fontSize: 40, color: "#000000", fontFamily: FONT },
  },
  legend: {
    orient: "vertical", left: 1423, top: 524,
    itemWidth: 50, itemHeight: 52, itemGap: 14,
    selectedMode: false,
    textStyle: { fontSize: 32, color: "#000000", fontFamily: FONT, padding: [0, 0, 0, 26] },
    data: [
      { name: HAB, icon: KEY_PATH,
        itemStyle: { color: "rgba(38,144,163,0.22)", borderColor: "#333333", borderWidth: 2 } },
      { name: SPE, icon: KEY_PATH,
        itemStyle: { color: "rgba(227,178,52,0.22)", borderColor: "#333333", borderWidth: 2 } },
    ],
  },
  series: [
    {
      type: "custom", name: "grid", renderItem: renderGridLine, data: gridData,
      encode: { x: 0, y: 1 }, silent: true, z: 0, clip: true,
    },
    {
      type: "custom", name: HAB, renderItem: boxRenderer("rgba(38,144,163,0.22)"),
      data: boxData(-DODGE, habWhiskerLow, habQ1, habMedian, habQ3, habWhiskerHigh),
      encode: { x: 0, y: [1, 2, 3, 4, 5] }, silent: true, z: 1, itemStyle: { color: TEAL },
    },
    {
      type: "custom", name: SPE, renderItem: boxRenderer("rgba(227,178,52,0.22)"),
      data: boxData(DODGE, speWhiskerLow, speQ1, speMedian, speQ3, speWhiskerHigh),
      encode: { x: 0, y: [1, 2, 3, 4, 5] }, silent: true, z: 1, itemStyle: { color: GOLD },
    },
    {
      type: "scatter", name: HAB, symbolSize: 4, silent: true, z: 2,
      itemStyle: { color: "#333333", opacity: 0.45 },
      data: outlierItems(habGroups, -DODGE, habWhiskerLow, habWhiskerHigh),
    },
    {
      type: "scatter", name: SPE, symbolSize: 4, silent: true, z: 2,
      itemStyle: { color: "#333333", opacity: 0.45 },
      data: outlierItems(speGroups, DODGE, speWhiskerLow, speWhiskerHigh),
    },
    {
      type: "scatter", name: HAB, symbolSize: 13, silent: true, z: 3,
      itemStyle: { color: TEAL, borderColor: TEAL, borderWidth: 1.2 },
      data: pointItems(habGroups, -DODGE),
    },
    {
      type: "scatter", name: SPE, symbolSize: 13, silent: true, z: 3,
      itemStyle: { color: GOLD, borderColor: GOLD, borderWidth: 1.2 },
      data: pointItems(speGroups, DODGE),
    },
  ],
});
</script>
</body>
</html>
